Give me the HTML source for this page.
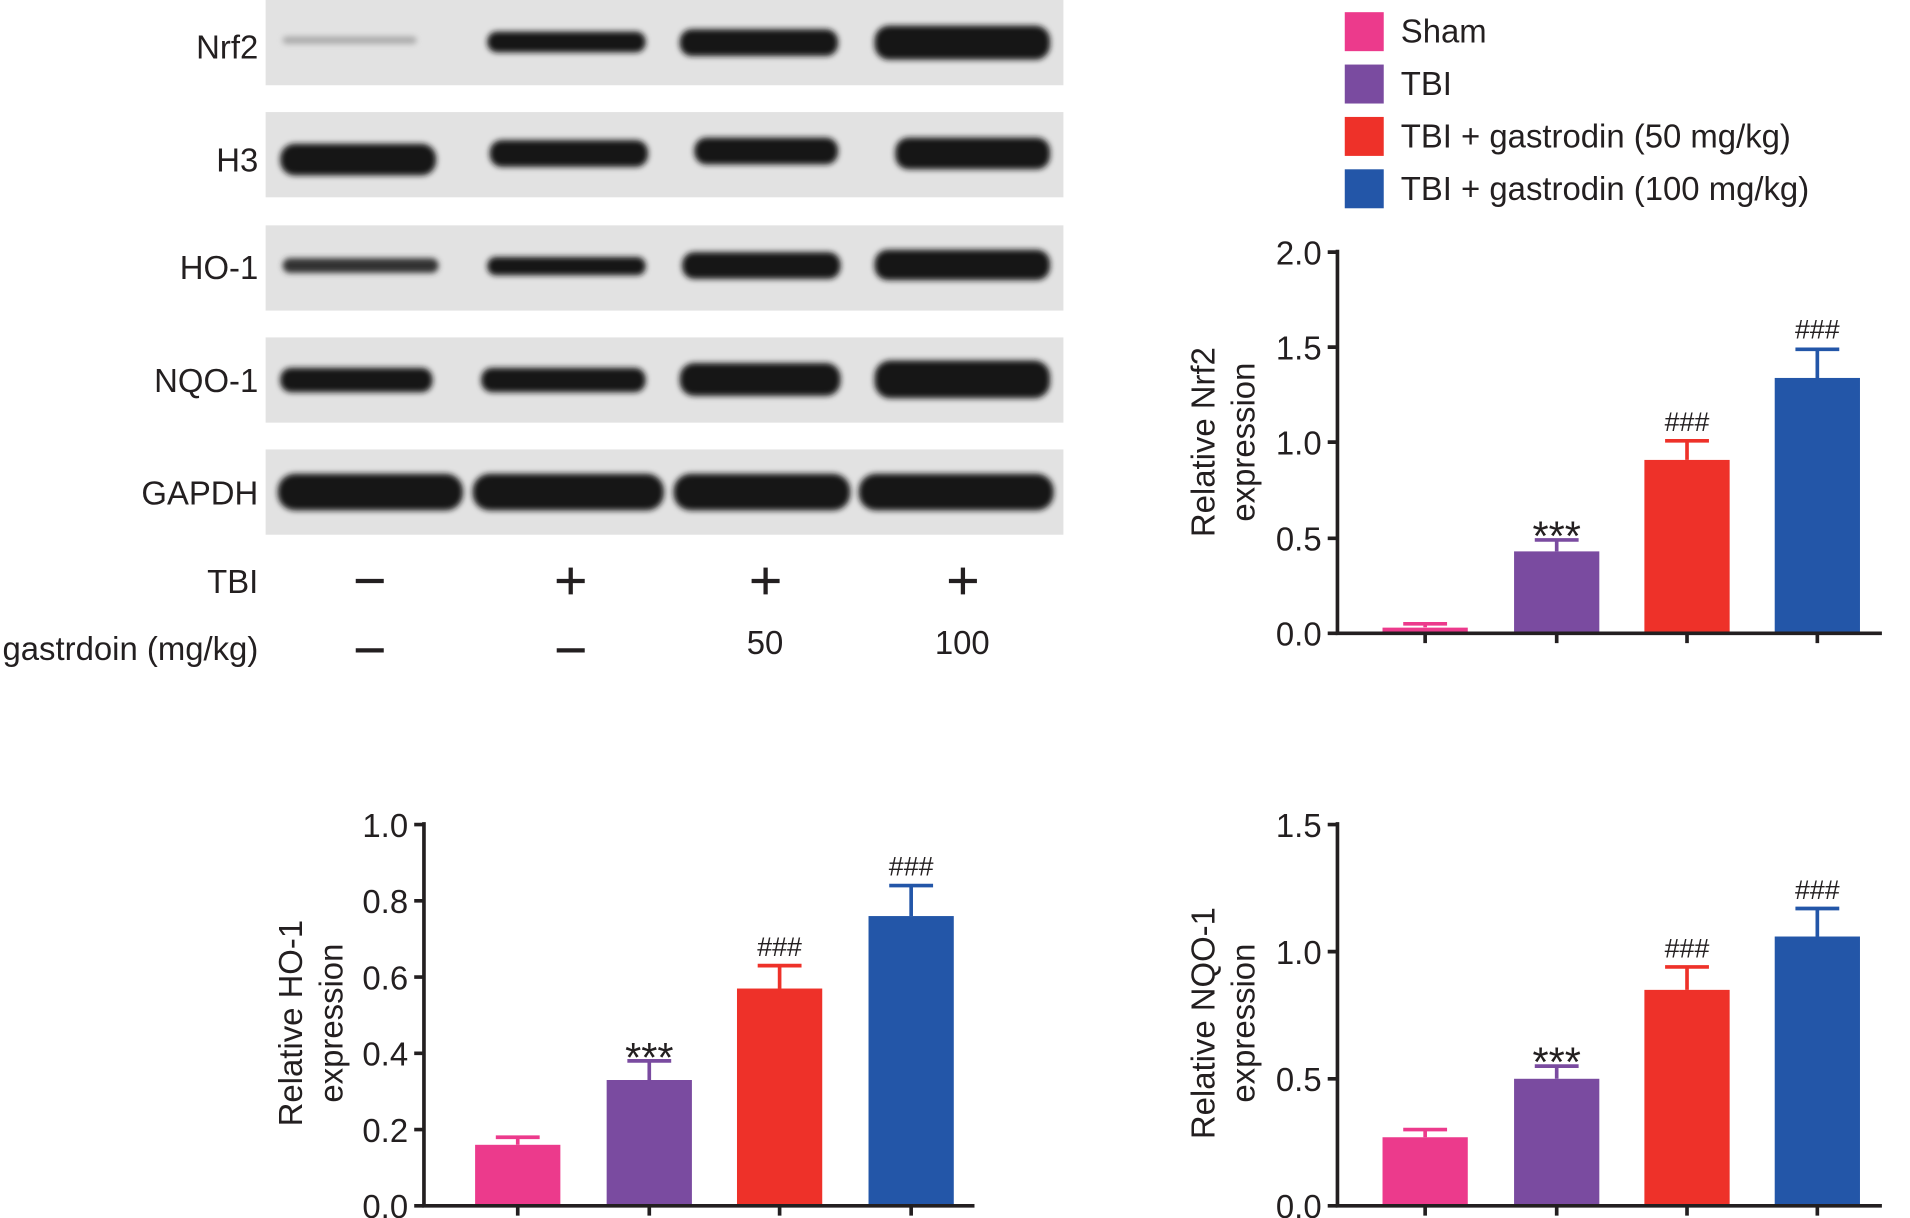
<!DOCTYPE html>
<html><head><meta charset="utf-8"><style>
html,body{margin:0;padding:0;background:#fff;}
svg{display:block;}
text{font-family:"Liberation Sans",Arial,sans-serif;fill:#231f20;}
</style></head><body>
<svg width="1910" height="1218" viewBox="0 0 1568 1000" xmlns="http://www.w3.org/2000/svg">
<defs><filter id="b" x="-10%" y="-50%" width="120%" height="200%"><feGaussianBlur stdDeviation="2.5"/></filter></defs>
<g fill="#e2e2e2">
<rect x="218" y="0" width="655" height="70"/>
<rect x="218" y="92" width="655" height="70"/>
<rect x="218" y="185" width="655" height="70"/>
<rect x="218" y="277" width="655" height="70"/>
<rect x="218" y="369" width="655" height="70"/>
</g>
<g fill="#141414" filter="url(#b)">
<rect x="232" y="30" width="110" height="6" rx="3" fill="#aaa"/>
<rect x="400" y="26" width="130" height="17" rx="8"/>
<rect x="558" y="24" width="130" height="22" rx="10"/>
<rect x="718" y="21" width="144" height="28" rx="12"/>
<rect x="230" y="118" width="128" height="26" rx="12"/>
<rect x="402" y="115" width="130" height="22" rx="10"/>
<rect x="570" y="113" width="118" height="22" rx="10"/>
<rect x="735" y="113" width="127" height="26" rx="11"/>
<rect x="232" y="212" width="128" height="12" rx="6" fill="#333"/>
<rect x="400" y="211" width="130" height="15" rx="7"/>
<rect x="560" y="207" width="130" height="22" rx="10"/>
<rect x="718" y="205" width="144" height="25" rx="11"/>
<rect x="230" y="302" width="125" height="20" rx="9"/>
<rect x="395" y="302" width="135" height="20" rx="9"/>
<rect x="558" y="298" width="132" height="27" rx="12"/>
<rect x="718" y="296" width="144" height="31" rx="13"/>
<rect x="228" y="389" width="152" height="30" rx="14"/>
<rect x="388" y="389" width="157" height="30" rx="14"/>
<rect x="553" y="389" width="145" height="30" rx="14"/>
<rect x="705" y="389" width="160" height="30" rx="14"/>
</g>
<g font-size="27" text-anchor="end">
<text x="212" y="48">Nrf2</text>
<text x="212" y="141">H3</text>
<text x="212" y="229">HO-1</text>
<text x="212" y="322">NQO-1</text>
<text x="212" y="414">GAPDH</text>
<text x="212" y="487">TBI</text>
<text x="212" y="542">gastrdoin (mg/kg)</text>
</g>
<g stroke="#231f20" stroke-width="3.5">
<line x1="292" y1="477" x2="315" y2="477"/>
<line x1="292" y1="534" x2="315" y2="534"/>
<line x1="457" y1="534" x2="480" y2="534"/>
<line x1="457" y1="477" x2="480" y2="477"/><line x1="468.5" y1="466" x2="468.5" y2="488"/>
<line x1="617" y1="477" x2="640" y2="477"/><line x1="628.5" y1="466" x2="628.5" y2="488"/>
<line x1="779" y1="477" x2="802" y2="477"/><line x1="790.5" y1="466" x2="790.5" y2="488"/>
</g>
<g font-size="27" text-anchor="middle">
<text x="628" y="537">50</text>
<text x="790" y="537">100</text>
</g>
<rect x="1104" y="10" width="32" height="32" fill="#ec3a8c"/>
<rect x="1104" y="53" width="32" height="32" fill="#7a4ba0"/>
<rect x="1104" y="96" width="32" height="32" fill="#ee3129"/>
<rect x="1104" y="139" width="32" height="32" fill="#2356a8"/>
<g font-size="27">
<text x="1150" y="35">Sham</text>
<text x="1150" y="78">TBI</text>
<text x="1150" y="121">TBI + gastrodin (50 mg/kg)</text>
<text x="1150" y="164">TBI + gastrodin (100 mg/kg)</text>
</g>

<g>
<rect x="1135" y="515.3" width="70" height="4.7" fill="#ec3a8c"/>
<rect x="1243" y="452.7" width="70" height="67.3" fill="#7a4ba0"/>
<rect x="1350" y="377.6" width="70" height="142.4" fill="#ee3129"/>
<rect x="1457" y="310.3" width="70" height="209.7" fill="#2356a8"/>
<g stroke-width="3">
<path d="M1170 515 V512.2 M1152 512.2 H1188" stroke="#ec3a8c"/>
<path d="M1278 452.7 V443.3 M1260 443.3 H1296" stroke="#7a4ba0"/>
<path d="M1385 377.6 V361.9 M1367 361.9 H1403" stroke="#ee3129"/>
<path d="M1492 310.3 V286.8 M1474 286.8 H1510" stroke="#2356a8"/>
</g>
<g stroke="#231f20" stroke-width="3" fill="none">
<path d="M1098 205 V520 H1545"/>
<path d="M1090 207 H1098 M1090 285 H1098 M1090 363 H1098 M1090 442 H1098 M1090 520 H1098"/>
<path d="M1170 520 V528 M1278 520 V528 M1385 520 V528 M1492 520 V528"/>
</g>
<g font-size="27" text-anchor="end">
<text x="1085" y="217">2.0</text><text x="1085" y="295">1.5</text><text x="1085" y="373">1.0</text><text x="1085" y="452">0.5</text><text x="1085" y="530">0.0</text>
</g>
<g text-anchor="middle">
<text x="1278" y="452" font-size="34">***</text>
<text x="1385" y="354" font-size="22">###</text>
<text x="1492" y="278" font-size="22">###</text>
</g>
<g font-size="27" text-anchor="middle">
<text transform="translate(997,363) rotate(-90)">Relative Nrf2</text>
<text transform="translate(1030,363) rotate(-90)">expression</text>
</g>
</g>

<g>
<rect x="390" y="939.9" width="70" height="50.1" fill="#ec3a8c"/>
<rect x="498" y="886.7" width="70" height="103.3" fill="#7a4ba0"/>
<rect x="605" y="811.6" width="70" height="178.4" fill="#ee3129"/>
<rect x="713" y="752.1" width="70" height="237.9" fill="#2356a8"/>
<g stroke-width="3">
<path d="M425 939.9 V933.7 M407 933.7 H443" stroke="#ec3a8c"/>
<path d="M533 886.7 V871 M515 871 H551" stroke="#7a4ba0"/>
<path d="M640 811.6 V792.8 M622 792.8 H658" stroke="#ee3129"/>
<path d="M748 752.1 V727.1 M730 727.1 H766" stroke="#2356a8"/>
</g>
<g stroke="#231f20" stroke-width="3" fill="none">
<path d="M348 675 V990 H800"/>
<path d="M340 677 H348 M340 739.6 H348 M340 802.2 H348 M340 864.8 H348 M340 927.4 H348 M340 990 H348"/>
<path d="M425 990 V998 M533 990 V998 M640 990 V998 M748 990 V998"/>
</g>
<g font-size="27" text-anchor="end">
<text x="335" y="687">1.0</text><text x="335" y="749.6">0.8</text><text x="335" y="812.2">0.6</text><text x="335" y="874.8">0.4</text><text x="335" y="937.4">0.2</text><text x="335" y="1000">0.0</text>
</g>
<g text-anchor="middle">
<text x="533" y="880" font-size="34">***</text>
<text x="640" y="785" font-size="22">###</text>
<text x="748" y="719" font-size="22">###</text>
</g>
<g font-size="27" text-anchor="middle">
<text transform="translate(248,840) rotate(-90)">Relative HO-1</text>
<text transform="translate(281,840) rotate(-90)">expression</text>
</g>
</g>

<g>
<rect x="1135" y="933.7" width="70" height="56.3" fill="#ec3a8c"/>
<rect x="1243" y="885.7" width="70" height="104.3" fill="#7a4ba0"/>
<rect x="1350" y="812.7" width="70" height="177.3" fill="#ee3129"/>
<rect x="1457" y="768.9" width="70" height="221.1" fill="#2356a8"/>
<g stroke-width="3">
<path d="M1170 933.7 V927.4 M1152 927.4 H1188" stroke="#ec3a8c"/>
<path d="M1278 885.7 V875.3 M1260 875.3 H1296" stroke="#7a4ba0"/>
<path d="M1385 812.7 V793.9 M1367 793.9 H1403" stroke="#ee3129"/>
<path d="M1492 768.9 V745.9 M1474 745.9 H1510" stroke="#2356a8"/>
</g>
<g stroke="#231f20" stroke-width="3" fill="none">
<path d="M1098 675 V990 H1545"/>
<path d="M1090 677 H1098 M1090 781.3 H1098 M1090 885.7 H1098 M1090 990 H1098"/>
<path d="M1170 990 V998 M1278 990 V998 M1385 990 V998 M1492 990 V998"/>
</g>
<g font-size="27" text-anchor="end">
<text x="1085" y="687">1.5</text><text x="1085" y="791.3">1.0</text><text x="1085" y="895.7">0.5</text><text x="1085" y="1000">0.0</text>
</g>
<g text-anchor="middle">
<text x="1278" y="884" font-size="34">***</text>
<text x="1385" y="786" font-size="22">###</text>
<text x="1492" y="738" font-size="22">###</text>
</g>
<g font-size="27" text-anchor="middle">
<text transform="translate(997,840) rotate(-90)">Relative NQO-1</text>
<text transform="translate(1030,840) rotate(-90)">expression</text>
</g>
</g>
</svg>
</body></html>
